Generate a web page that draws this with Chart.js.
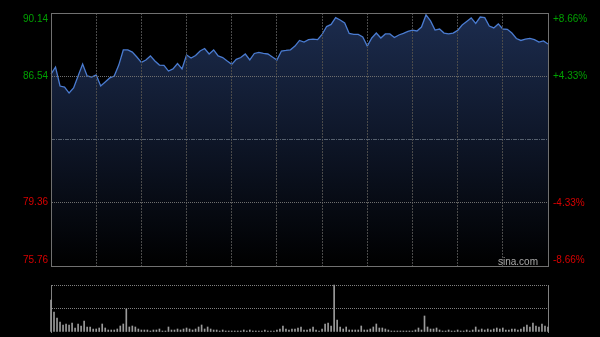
<!DOCTYPE html>
<html>
<head>
<meta charset="utf-8">
<script src="https://cdn.jsdelivr.net/npm/chart.js@4"></script>
<style>
  html, body { margin: 0; padding: 0; background: #000; }
  #wrap { position: relative; width: 600px; height: 337px; background: #000; }
  #price { position: absolute; left: 0; top: 0; }
  #vol { position: absolute; left: 0; top: 270px; }
</style>
</head>
<body>
<div id="wrap">
  <canvas id="price" width="600" height="270"></canvas>
  <canvas id="vol" width="600" height="67"></canvas>
</div>
<script>
// previous close and axis ticks
const prevClose = 82.95;
const priceTicks = [75.76, 79.36, 82.95, 86.54, 90.14];
const priceLabels = ['75.76', '79.36', '', '86.54', '90.14'];
const pctTicks = [-8.66, -4.33, 0, 4.33, 8.66];
const pctLabels = ['-8.66%', '-4.33%', '', '+4.33%', '+8.66%'];

// price every 3 minutes, 09:30-12:00 / 13:00-16:00
const prices = [
  86.67, 87.07, 85.99, 85.93, 85.59, 85.88, 86.56, 87.24, 86.56, 86.50,
  86.62, 85.99, 86.22, 86.45, 86.56, 87.18, 88.04, 88.04, 87.92, 87.64,
  87.33, 87.47, 87.70, 87.41, 87.18, 87.16, 86.84, 86.96, 87.27, 86.96,
  87.75, 87.58, 87.72, 87.98, 88.12, 87.81, 88.04, 87.70, 87.61, 87.41,
  87.22, 87.51, 87.61, 87.81, 87.47, 87.84, 87.90, 87.84, 87.81, 87.64,
  87.47, 87.98, 88.01, 88.05, 88.26, 88.58, 88.49, 88.63, 88.65, 88.63,
  88.92, 89.37, 89.49, 89.88, 89.74, 89.57, 88.98, 88.92, 88.92, 88.78,
  88.26, 88.72, 89.00, 88.72, 88.95, 88.95, 88.75, 88.89, 88.98, 89.09,
  89.17, 89.12, 89.34, 90.03, 89.69, 89.17, 89.23, 89.00, 88.95, 89.00,
  89.15, 89.46, 89.66, 89.86, 89.55, 89.91, 89.88, 89.40, 89.29, 89.52,
  89.23, 89.21, 89.00, 88.69, 88.58, 88.65, 88.70, 88.63, 88.49, 88.55,
  88.38
];

// volume every 2 minutes
const volumes = [
  32, 20, 14, 10, 7, 8, 7, 9, 4, 8,
  6, 11, 5, 5, 3, 3, 4, 8, 4, 2,
  2, 2, 3, 6, 8, 23, 5, 6, 5, 3,
  2, 2, 2, 1, 2, 2, 3, 1, 1, 5,
  2, 2, 3, 2, 3, 4, 3, 2, 3, 5,
  7, 3, 5, 3, 2, 2, 1, 2, 1, 1,
  1, 1, 1, 1, 2, 1, 2, 1, 1, 1,
  1, 2, 1, 1, 1, 2, 3, 6, 3, 2,
  3, 3, 4, 5, 2, 2, 3, 5, 2, 1,
  3, 8, 9, 6, 47, 12, 5, 3, 5, 2,
  2, 2, 2, 6, 2, 2, 3, 5, 8, 4,
  4, 3, 2, 1, 1, 1, 1, 1, 1, 1,
  1, 2, 4, 2, 16, 5, 3, 3, 4, 2,
  1, 1, 2, 1, 1, 2, 1, 1, 2, 1,
  2, 5, 2, 3, 2, 3, 2, 3, 4, 3,
  4, 2, 2, 3, 3, 2, 3, 5, 7, 5,
  9, 6, 5, 8, 6, 5
];

function hkTimes(step) {
  const out = [];
  for (let m = 0; m <= 330; m += step) {
    const t = m <= 150 ? 570 + m : 780 + (m - 150);
    out.push(String(Math.floor(t / 60)).padStart(2, '0') + ':' + String(t % 60).padStart(2, '0'));
  }
  return out;
}
const priceTimes = hkTimes(3);
const volTimes = hkTimes(2);

const FONT = '"Liberation Sans", Arial, sans-serif';
const BORDER = '#707070';

const watermark = {
  id: 'watermark',
  afterDraw(chart) {
    const { ctx, chartArea } = chart;
    ctx.save();
    ctx.font = '10px ' + FONT;
    ctx.fillStyle = '#a8a8a8';
    ctx.textAlign = 'right';
    ctx.textBaseline = 'middle';
    ctx.fillText('sina.com', chartArea.right - 10, chartArea.bottom - 4);
    ctx.restore();
  }
};

// keep the plot box fixed, ignoring label overhang
const fixBox = (w, h) => (s) => {
  if (w != null) s.width = w;
  if (h != null) s.height = h;
  s.paddingTop = 0; s.paddingBottom = 0; s.paddingLeft = 0; s.paddingRight = 0;
};

new Chart(document.getElementById('price'), {
  type: 'line',
  data: {
    labels: priceTimes,
    datasets: [{
      data: prices,
      yAxisID: 'y',
      borderColor: '#4a7bd0',
      borderWidth: 1.3,
      pointRadius: 0,
      tension: 0,
      fill: 'start',
      backgroundColor: (c) => {
        const a = c.chart.chartArea;
        if (!a) return 'transparent';
        const g = c.chart.ctx.createLinearGradient(0, a.top, 0, a.bottom);
        g.addColorStop(0, '#1c2c4e');
        g.addColorStop(0.5, '#0e1628');
        g.addColorStop(1, '#000000');
        return g;
      }
    }]
  },
  options: {
    responsive: false,
    animation: false,
    events: [],
    layout: { padding: 0 },
    plugins: { legend: { display: false }, tooltip: { enabled: false } },
    scales: {
      x: {
        type: 'category',
        offset: false,
        ticks: { display: false, autoSkip: false },
        grid: {
          z: 1,
          drawTicks: false,
          color: (c) => {
            const lab = priceTimes[c.index] || '';
            const inner = c.index > 0 && c.index < priceTimes.length - 1;
            return inner && /:(00|30)$/.test(lab) ? '#4a4a4a' : 'transparent';
          }
        },
        border: { display: true, color: BORDER, dash: [2, 1], z: 2 },
        afterFit: fixBox(null, 4)
      },
      xTop: {
        type: 'category',
        position: 'top',
        ticks: { display: false },
        grid: { display: false, drawTicks: false },
        border: { display: true, color: BORDER, z: 2 },
        afterFit: fixBox(null, 13)
      },
      y: {
        position: 'left',
        min: priceTicks[0],
        max: priceTicks[priceTicks.length - 1],
        afterBuildTicks: (s) => { s.ticks = priceTicks.map(v => ({ value: v })); },
        ticks: {
          padding: 3,
          font: { family: FONT, size: 10 },
          color: (c) => c.index >= 2 ? '#00a000' : '#d80000',
          callback: (v, i) => {
            if (i === priceTicks.length - 1) return ['', priceLabels[i]];
            if (i === 0) return [priceLabels[i], ''];
            return priceLabels[i];
          }
        },
        grid: {
          z: 1,
          drawTicks: false,
          color: (c) => (c.index === 1 || c.index === 3) ? '#6e6e6e' : 'transparent'
        },
        border: { display: true, color: BORDER, dash: [1, 1], z: 2 },
        afterFit: fixBox(51, null)
      },
      y2: {
        position: 'right',
        min: pctTicks[0],
        max: pctTicks[pctTicks.length - 1],
        afterBuildTicks: (s) => { s.ticks = pctTicks.map(v => ({ value: v })); },
        ticks: {
          padding: 5,
          font: { family: FONT, size: 10 },
          color: (c) => c.index >= 2 ? '#00a000' : '#d80000',
          callback: (v, i) => {
            if (i === pctTicks.length - 1) return ['', pctLabels[i]];
            if (i === 0) return [pctLabels[i], ''];
            return pctLabels[i];
          }
        },
        grid: {
          z: 1,
          drawTicks: false,
          color: (c) => c.index === 2 ? '#56606e' : 'transparent'
        },
        border: { display: true, color: BORDER, dash: [4, 1, 1, 1], z: 2 },
        afterFit: fixBox(52, null)
      }
    }
  },
  plugins: [watermark]
});

const volMax = Math.max(...volumes);

new Chart(document.getElementById('vol'), {
  type: 'bar',
  data: {
    labels: volTimes,
    datasets: [{
      data: volumes,
      backgroundColor: '#9a9a9a',
      barThickness: 1,
      categoryPercentage: 1,
      barPercentage: 1,
      clip: false
    }]
  },
  options: {
    responsive: false,
    animation: false,
    events: [],
    layout: { padding: { top: 15, bottom: 5 } },
    plugins: { legend: { display: false }, tooltip: { enabled: false } },
    scales: {
      x: {
        offset: false,
        ticks: { display: false, autoSkip: false },
        grid: { display: false, drawTicks: false },
        border: { display: false }
      },
      y: {
        min: 0,
        max: volMax,
        afterBuildTicks: (s) => { s.ticks = [{ value: 0 }, { value: volMax / 2 }, { value: volMax }]; },
        ticks: { display: false },
        grid: {
          drawTicks: false,
          color: (c) => c.index === 0 ? 'transparent' : '#808080'
        },
        border: { display: true, color: '#808080', dash: [1, 1] },
        afterFit: fixBox(51, null)
      },
      yR: {
        position: 'right',
        ticks: { display: false },
        grid: { display: false, drawTicks: false },
        border: { display: true, color: '#808080' },
        afterFit: fixBox(52, null)
      }
    }
  }
});
</script>
</body>
</html>
